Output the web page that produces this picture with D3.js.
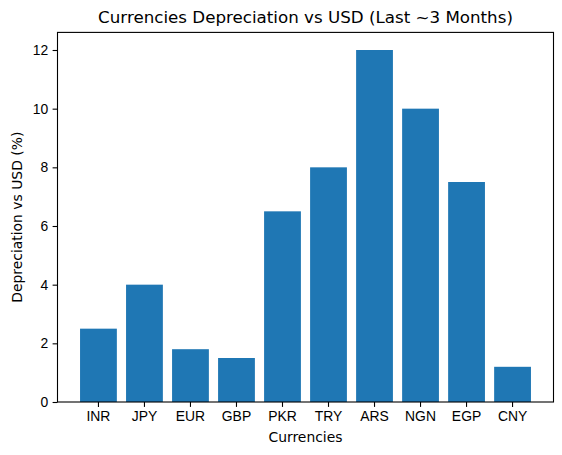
<!DOCTYPE html>
<html>
<head>
<meta charset="utf-8">
<script src="https://cdn.jsdelivr.net/npm/d3@7"></script>
<style>
  body { margin: 0; background: #fff; }
  svg { display: block; font-family: "DejaVu Sans", sans-serif; }
  .axis path, .axis line { stroke: #000; stroke-width: 1.1; }
  .axis text { fill: #000; font-size: 13.9px; }
</style>
</head>
<body>
<figure style="margin:0"></figure>
<script>
const currencies = ['INR', 'JPY', 'EUR', 'GBP', 'PKR', 'TRY', 'ARS', 'NGN', 'EGP', 'CNY']
const depreciation = [2.5, 4, 1.8, 1.5, 6.5, 8, 12, 10, 7.5, 1.2]
const yTicks = [0, 2, 4, 6, 8, 10, 12]

const margin = {top: 32.4, right: 8.5, bottom: 53, left: 57.5}
const width = 562 - margin.left - margin.right
const height = 455 - margin.top - margin.bottom

const svg = d3.select('figure')
  .append('svg')
  .attr('width', 562)
  .attr('height', 455)

const g = svg.append('g')
  .attr('transform', `translate(${margin.left}, ${margin.top})`)

// matplotlib bar(): width 0.8, 5% margins on each side
const x = d3.scaleBand()
  .domain(currencies)
  .range([0, width])
  .paddingInner(0.2)
  .paddingOuter(0.49)

const y = d3.scaleLinear()
  .domain([0, 12.6])
  .range([height, 0])

g.selectAll('rect')
  .data(depreciation)
  .enter()
  .append('rect')
  .attr('x', (d, i) => x(currencies[i]))
  .attr('y', d => y(d))
  .attr('width', x.bandwidth())
  .attr('height', d => height - y(d))
  .attr('fill', '#1f77b4')

// frame
g.append('rect')
  .attr('width', width)
  .attr('height', height)
  .attr('fill', 'none')
  .attr('stroke', '#000')
  .attr('stroke-width', 1.1)

g.append('g')
  .attr('class', 'axis')
  .attr('transform', `translate(0, ${height})`)
  .call(d3.axisBottom(x).tickSize(4.9).tickPadding(4.5).tickSizeOuter(0))
  .call(s => s.select('.domain').remove())

g.append('g')
  .attr('class', 'axis')
  .call(d3.axisLeft(y).tickValues(yTicks).tickSize(4.9).tickPadding(4.5).tickSizeOuter(0))
  .call(s => s.select('.domain').remove())

// title
svg.append('text')
  .attr('x', margin.left + width / 2)
  .attr('y', 23)
  .attr('text-anchor', 'middle')
  .style('font-size', '16.7px')
  .text('Currencies Depreciation vs USD (Last ~3 Months)')

// text label for the x axis
svg.append('text')
  .attr('x', margin.left + width / 2)
  .attr('y', 442)
  .attr('text-anchor', 'middle')
  .style('font-size', '13.9px')
  .text('Currencies')

// text label for the y axis
svg.append('text')
  .attr('transform', 'rotate(-90)')
  .attr('x', -(margin.top + height / 2))
  .attr('y', 21.5)
  .attr('text-anchor', 'middle')
  .style('font-size', '13.9px')
  .text('Depreciation vs USD (%)')
</script>
</body>
</html>
